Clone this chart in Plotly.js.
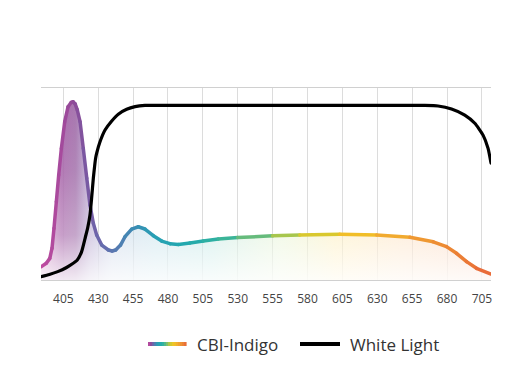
<!DOCTYPE html>
<html>
<head>
<meta charset="utf-8">
<script src="https://cdn.plot.ly/plotly-3.0.1.min.js"></script>
<style>
  html, body { margin: 0; padding: 0; background: #fff; }
  #chart { width: 522px; height: 384px; }
  .scatterlayer .js-line { stroke-linecap: round; stroke-linejoin: round; }
</style>
</head>
<body>
<div id="chart"></div>
<script>
// Wavelength (nm) and relative intensity
const cbiX = [389, 392.8, 395.3, 396.9, 398.3, 400, 401.7, 403.6, 406, 408.4, 410.7, 412, 413.4, 415, 417, 419.3, 421.8, 424.1, 426.5, 428.9, 432.5, 437.3, 440, 442.5, 446, 449.2, 454, 458.7, 463.5, 469.5, 475.5, 481.4, 487.4, 495.8, 505.3, 516.1, 530, 555, 574.5, 603.1, 629.5, 653.4, 670.1, 679.6, 686.8, 694, 701.1, 711.5];
const cbiY = [0.076, 0.096, 0.124, 0.182, 0.296, 0.449, 0.602, 0.754, 0.907, 0.993, 1.018, 1.021, 1.01, 0.975, 0.907, 0.754, 0.583, 0.43, 0.325, 0.258, 0.2, 0.172, 0.166, 0.172, 0.2, 0.248, 0.292, 0.305, 0.292, 0.254, 0.223, 0.208, 0.204, 0.212, 0.223, 0.235, 0.243, 0.253, 0.258, 0.262, 0.258, 0.245, 0.219, 0.191, 0.153, 0.105, 0.067, 0.034];

const whiteX = [389, 395, 401, 407, 411, 415, 418, 420.6, 422.5, 424.1, 425.3, 426.5, 427.4, 428.2, 429, 431.3, 434.9, 439.7, 444.4, 450.4, 456.4, 463.5, 476.7, 664, 673.6, 683.2, 692.7, 699.9, 705.8, 709.4, 711.5];
const whiteY = [0.019, 0.032, 0.048, 0.07, 0.09, 0.115, 0.16, 0.239, 0.3, 0.372, 0.47, 0.583, 0.65, 0.70, 0.73, 0.792, 0.859, 0.911, 0.95, 0.978, 0.993, 1.0, 1.0, 1.0, 0.997, 0.98, 0.945, 0.898, 0.83, 0.754, 0.67];

const tickValues = [405, 430, 455, 480, 505, 530, 555, 580, 605, 630, 655, 680, 705];
const seriesNames = ['CBI-Indigo', 'White Light'];

// Colour ramps (styling)
const lineStops = [[389,'#c24ba0'],[405,'#a24a9c'],[412,'#914a98'],[420,'#7c56a0'],[432,'#6a68ac'],[442,'#5a78b0'],[456,'#3c8cb4'],[472,'#27a0b4'],[495,'#22a9ae'],[520,'#34b39c'],[545,'#6cbc78'],[565,'#a8c64c'],[585,'#d4c830'],[605,'#f0c624'],[630,'#f2b42c'],[655,'#f09e32'],[685,'#ec8434'],[711.5,'#e8663a']];
const fillStops = [[389,'rgba(185,85,165,0.55)'],[404,'rgba(155,80,158,0.85)'],[414,'rgba(145,85,155,0.8)'],[424,'rgba(135,105,175,0.5)'],[440,'rgba(120,145,195,0.3)'],[470,'rgba(80,165,195,0.25)'],[510,'rgba(70,185,175,0.25)'],[560,'rgba(170,215,110,0.22)'],[600,'rgba(252,212,80,0.3)'],[650,'rgba(248,175,95,0.28)'],[711.5,'rgba(238,125,75,0.28)']];

const X0 = 389, X1 = 711.5;

function hexToRgb(h) {
  return [parseInt(h.slice(1,3),16), parseInt(h.slice(3,5),16), parseInt(h.slice(5,7),16)];
}
function colorAt(nm) {
  if (nm <= lineStops[0][0]) return lineStops[0][1];
  for (let i = 0; i < lineStops.length - 1; i++) {
    const a = lineStops[i], b = lineStops[i+1];
    if (nm >= a[0] && nm <= b[0]) {
      const t = (nm - a[0]) / (b[0] - a[0]);
      const ca = hexToRgb(a[1]), cb = hexToRgb(b[1]);
      const c = ca.map((v, k) => Math.round(v + (cb[k] - v) * t));
      return 'rgb(' + c.join(',') + ')';
    }
  }
  return lineStops[lineStops.length-1][1];
}

const traces = [];

// Coloured gradient fill under CBI-Indigo
traces.push({
  x: cbiX, y: cbiY, type: 'scatter', mode: 'lines',
  line: { width: 0, color: 'rgba(0,0,0,0)' },
  fill: 'tozeroy',
  fillgradient: {
    type: 'horizontal', start: X0, stop: X1,
    colorscale: fillStops.map(s => [(s[0] - X0) / (X1 - X0), s[1]])
  },
  hoverinfo: 'skip', showlegend: false
});
// White vertical fade over the fill
traces.push({
  x: cbiX, y: cbiY, type: 'scatter', mode: 'lines',
  line: { width: 0, color: 'rgba(0,0,0,0)' },
  fill: 'tozeroy',
  fillgradient: {
    type: 'vertical', start: 0, stop: 1.03,
    colorscale: [[0,'rgba(255,255,255,0.85)'],[0.25,'rgba(255,255,255,0.35)'],[0.6,'rgba(255,255,255,0.12)'],[1,'rgba(255,255,255,0)']]
  },
  hoverinfo: 'skip', showlegend: false
});
// CBI-Indigo line, drawn segment by segment with spectral colour
for (let i = 0; i < cbiX.length - 1; i++) {
  traces.push({
    x: [cbiX[i], cbiX[i+1]], y: [cbiY[i], cbiY[i+1]],
    type: 'scatter', mode: 'lines',
    line: { width: 3.5, color: colorAt((cbiX[i] + cbiX[i+1]) / 2) },
    hoverinfo: 'skip', showlegend: false, name: seriesNames[0]
  });
}
// White light
traces.push({
  x: whiteX, y: whiteY, type: 'scatter', mode: 'lines',
  line: { width: 3.2, color: '#000', shape: 'spline', smoothing: 0.5 },
  hoverinfo: 'skip', showlegend: false, name: seriesNames[1]
});

// Custom legend (gradient swatch)
const shapes = [];
const plotL = 41, plotW = 450, plotB = 280, plotH = 192;
const px = v => (v - plotL) / plotW;
const py = v => (plotB - v) / plotH;
const legY = 344;
const gx0 = 148, gx1 = 186, nSeg = 19;
for (let k = 0; k < nSeg; k++) {
  const a = gx0 + (gx1 - gx0) * k / nSeg;
  const b = gx0 + (gx1 - gx0) * (k + 1) / nSeg;
  const nm = X0 + (X1 - X0) * (k + 0.5) / nSeg;
  shapes.push({ type: 'line', xref: 'paper', yref: 'paper',
    x0: px(a), x1: px(b + 0.6), y0: py(legY), y1: py(legY),
    line: { color: colorAt(nm), width: 4 } });
}
shapes.push({ type: 'line', xref: 'paper', yref: 'paper',
  x0: px(300), x1: px(340), y0: py(legY), y1: py(legY),
  line: { color: '#000', width: 4 } });

const annotations = [
  { text: seriesNames[0], xref: 'paper', yref: 'paper', x: px(195), y: py(legY),
    xanchor: 'left', yanchor: 'middle', showarrow: false,
    font: { family: 'Open Sans, sans-serif', size: 17, color: '#333' } },
  { text: seriesNames[1], xref: 'paper', yref: 'paper', x: px(348), y: py(legY),
    xanchor: 'left', yanchor: 'middle', showarrow: false,
    font: { family: 'Open Sans, sans-serif', size: 17, color: '#333' } }
];

const layout = {
  width: 522, height: 384,
  margin: { l: 41, r: 31, t: 88, b: 104, pad: 0 },
  paper_bgcolor: '#fff', plot_bgcolor: '#fff',
  showlegend: false,
  xaxis: {
    range: [X0, X1], tickvals: tickValues, ticktext: tickValues.map(String),
    showgrid: true, gridcolor: '#dcdcdc', gridwidth: 1,
    showline: true, linecolor: '#d0d0d0', linewidth: 1, mirror: true,
    zeroline: false, ticks: '', ticklabelstandoff: 8,
    tickfont: { family: 'Open Sans, sans-serif', size: 12, color: '#444' },
    fixedrange: true
  },
  yaxis: {
    range: [0, 1.1], showgrid: false, showticklabels: false, ticks: '',
    zeroline: false, showline: false, fixedrange: true
  },
  shapes: shapes,
  annotations: annotations
};

Plotly.newPlot('chart', traces, layout, { displayModeBar: false, staticPlot: true });
</script>
</body>
</html>
